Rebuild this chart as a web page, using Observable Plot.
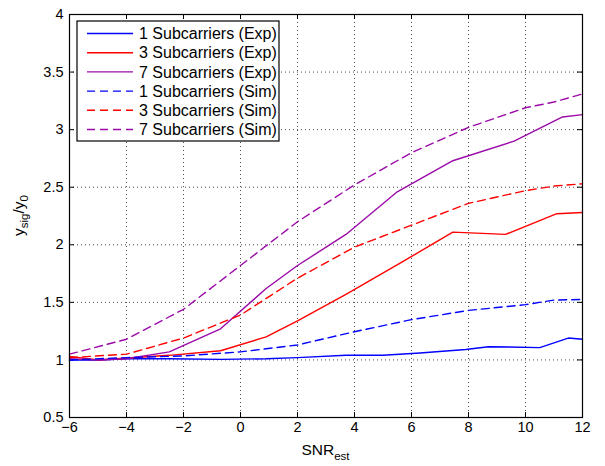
<!DOCTYPE html>
<html>
<head>
<meta charset="utf-8">
<script src="https://cdn.jsdelivr.net/npm/d3@7"></script>
<script src="https://cdn.jsdelivr.net/npm/@observablehq/plot@0.6"></script>
<style>
  html, body { margin: 0; padding: 0; background: #fff; }
  svg { font-family: "Liberation Sans", Arial, Helvetica, sans-serif; }
</style>
</head>
<body>
<div id="chart"></div>
<script>
// ---- data ----
const xTicks = [-6, -4, -2, 0, 2, 4, 6, 8, 10, 12];
const yTicks = [0.5, 1, 1.5, 2, 2.5, 3, 3.5, 4];

const exp1X = [-6, -5, -4, -2.5, -0.7, 0.9, 2, 3.7, 5, 6.3, 7.9, 8.7, 10.5, 11.5, 12];
const exp1Y = [1.00, 1.00, 1.01, 1.01, 1.005, 1.01, 1.02, 1.04, 1.04, 1.06, 1.09, 1.115, 1.107, 1.19, 1.18];

const exp3X = [-6, -5, -2.5, -0.7, 0.9, 2, 3.7, 5.6, 7.45, 9.3, 11.1, 12];
const exp3Y = [1.03, 1.00, 1.04, 1.08, 1.20, 1.34, 1.57, 1.84, 2.11, 2.09, 2.27, 2.28];

const exp7X = [-6, -5, -4, -2.5, -0.7, 0.9, 2, 3.7, 5.5, 7.45, 9.6, 11.3, 12];
const exp7Y = [1.01, 1.00, 1.01, 1.07, 1.27, 1.62, 1.82, 2.09, 2.46, 2.73, 2.90, 3.11, 3.13];

const simX = [-6, -4, -2, 0, 2, 4, 6, 8, 10, 11, 12];
const sim1Y = [1.00, 1.02, 1.035, 1.07, 1.13, 1.245, 1.35, 1.43, 1.48, 1.52, 1.525];
const sim3Y = [1.02, 1.05, 1.19, 1.39, 1.71, 1.98, 2.17, 2.36, 2.47, 2.51, 2.53];
const sim7Y = [1.05, 1.18, 1.44, 1.82, 2.20, 2.52, 2.80, 3.02, 3.19, 3.24, 3.31];

const seriesNames = [
  "1 Subcarriers (Exp)", "3 Subcarriers (Exp)", "7 Subcarriers (Exp)",
  "1 Subcarriers (Sim)", "3 Subcarriers (Sim)", "7 Subcarriers (Sim)"
];
const seriesColors = ["#0000ff", "#ff0000", "#9b0aa8", "#0000ff", "#ff0000", "#9b0aa8"];
const seriesDash = [null, null, null, "8,5", "8,5", "8,5"];

// ---- build tables ----
const zip = (xs, ys) => xs.map((x, i) => ({x, y: ys[i]}));
const seriesData = [
  zip(exp1X, exp1Y), zip(exp3X, exp3Y), zip(exp7X, exp7Y),
  zip(simX, sim1Y), zip(simX, sim3Y), zip(simX, sim7Y)
];

const W = 605, H = 466;
const mL = 69, mR = 23, mT = 14, mB = 49;
const plotW = W - mL - mR, plotH = H - mT - mB;
const tickLen = 5;
const fmt = d => d < 0 ? "\u2212" + Math.abs(d) : String(d);
const font = "Liberation Sans, Arial, Helvetica, sans-serif";

const marks = [
  // grid
  Plot.ruleX(xTicks, {x: d => d, stroke: "#000", strokeOpacity: 0.7, strokeDasharray: "1,3", strokeWidth: 1}),
  Plot.ruleY(yTicks, {y: d => d, stroke: "#000", strokeOpacity: 0.7, strokeDasharray: "1,3", strokeWidth: 1}),
  // inner ticks
  Plot.tickX(xTicks, {x: d => d, insetTop: plotH - tickLen, stroke: "#000"}),
  Plot.tickX(xTicks, {x: d => d, insetBottom: plotH - tickLen, stroke: "#000"}),
  Plot.tickY(yTicks, {y: d => d, insetRight: plotW - tickLen, stroke: "#000"}),
  Plot.tickY(yTicks, {y: d => d, insetLeft: plotW - tickLen, stroke: "#000"}),
  // tick labels
  Plot.text(xTicks, {x: d => d, text: fmt, frameAnchor: "bottom", dy: 14, fontSize: 14.5, fill: "#000"}),
  Plot.text(yTicks, {y: d => d, text: fmt, frameAnchor: "left", textAnchor: "end", dx: -6, fontSize: 14.5, fill: "#000"}),
];
seriesData.forEach((data, i) => {
  marks.push(Plot.line(data, {
    x: "x", y: "y", stroke: seriesColors[i], strokeWidth: 1.4,
    strokeDasharray: seriesDash[i] || undefined
  }));
});
marks.push(Plot.frame({stroke: "#000", strokeWidth: 1.2}));

const chart = Plot.plot({
  width: W, height: H,
  marginLeft: mL, marginRight: mR, marginTop: mT, marginBottom: mB,
  style: {fontFamily: font, background: "#fff", color: "#000"},
  x: {domain: [-6, 12], axis: null},
  y: {domain: [0.5, 4], axis: null},
  marks
});
document.getElementById("chart").appendChild(chart);

// ---- axis titles & legend (added to the same SVG) ----
const svg = d3.select(chart);

// x label: SNR_est
const xl = svg.append("text")
  .attr("x", mL + plotW / 2).attr("y", 455)
  .attr("text-anchor", "middle").attr("font-size", 15.5).attr("fill", "#000")
  .style("font-family", font);
xl.append("tspan").text("SNR");
xl.append("tspan").attr("font-size", 11.5).attr("dy", 5).text("est");

// y label: y_sig / y_0
const yl = svg.append("text")
  .attr("transform", `translate(24,${mT + plotH / 2}) rotate(-90)`)
  .attr("text-anchor", "middle").attr("font-size", 15.5).attr("fill", "#000")
  .style("font-family", font);
yl.append("tspan").text("y");
yl.append("tspan").attr("font-size", 11.5).attr("dy", 4).text("sig");
yl.append("tspan").attr("dy", -4).text("/y");
yl.append("tspan").attr("font-size", 11.5).attr("dy", 4).text("0");

// legend
const lg = svg.append("g").attr("text-anchor", "start");
lg.append("rect").attr("x", 77).attr("y", 21).attr("width", 202).attr("height", 120)
  .attr("fill", "#fff").attr("stroke", "#000").attr("stroke-width", 1.2);
seriesNames.forEach((name, i) => {
  const cy = 33.5 + i * 19.2;
  lg.append("line").attr("x1", 87).attr("x2", 133).attr("y1", cy).attr("y2", cy)
    .attr("stroke", seriesColors[i]).attr("stroke-width", 1.4)
    .attr("stroke-dasharray", seriesDash[i] || null);
  lg.append("text").attr("x", 139).attr("y", cy).attr("dy", "0.35em")
    .attr("text-anchor", "start")
    .attr("font-size", 16).attr("fill", "#000").style("font-family", font).text(name);
});
</script>
</body>
</html>
